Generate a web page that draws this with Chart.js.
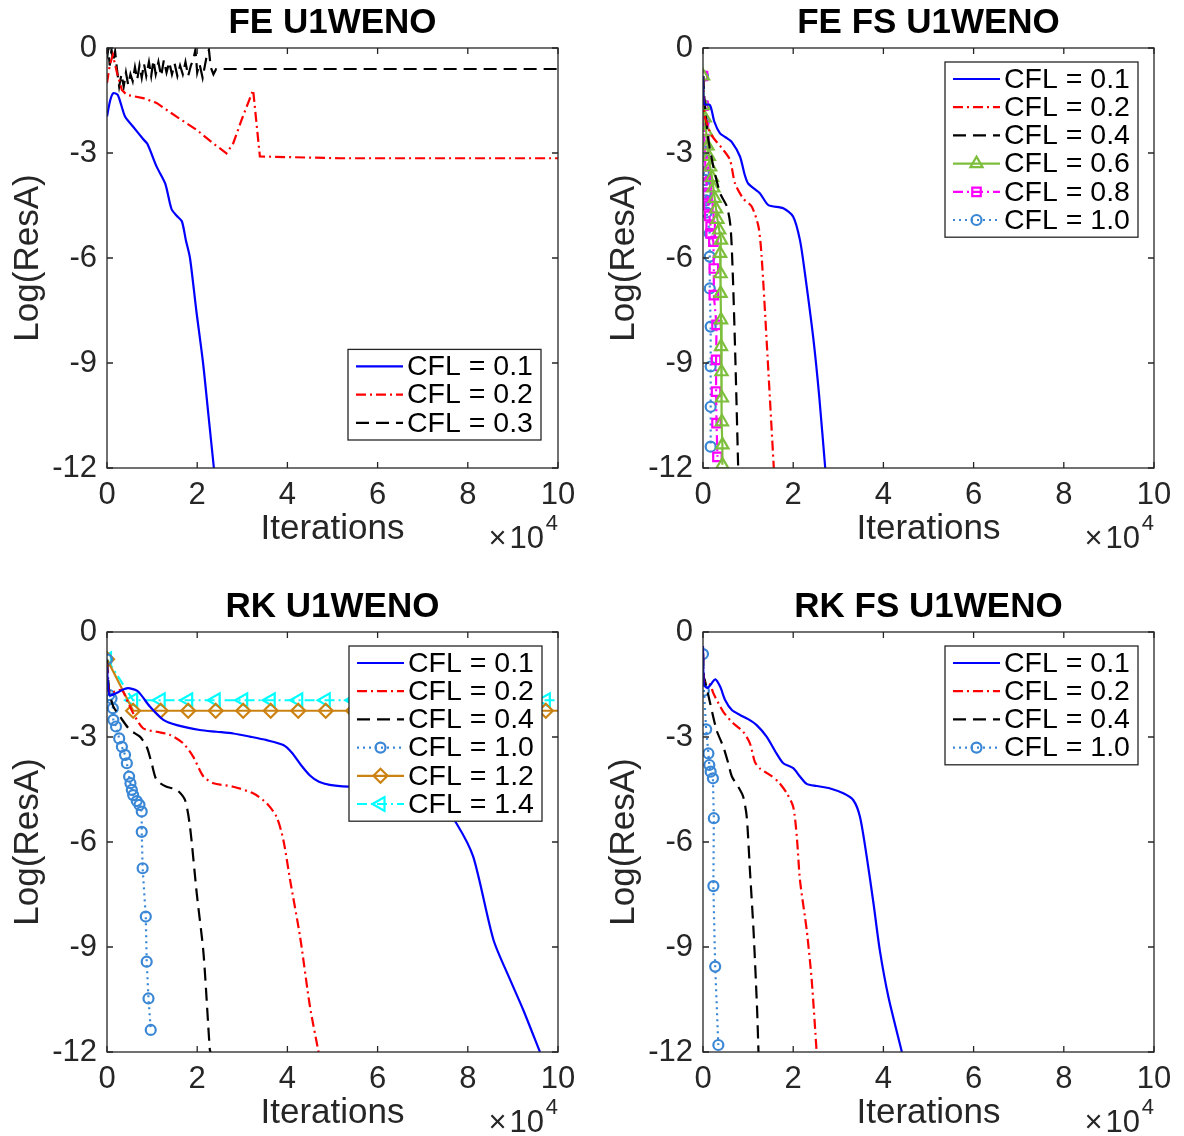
<!DOCTYPE html>
<html>
<head>
<meta charset="utf-8">
<title>Residual convergence, U1WENO</title>
<script src="https://cdn.jsdelivr.net/npm/chart.js@4.4.1/dist/chart.umd.min.js"></script>
<style>
  html, body { margin: 0; padding: 0; background: #fff; overflow: hidden; }
  body { width: 1184px; height: 1136px; position: relative; }
  .panel { position: absolute; width: 592px; height: 568px; }
</style>
</head>
<body>
<div class="panel" style="left:0;top:0"><canvas id="feU1" width="592" height="568"></canvas></div>
<div class="panel" style="left:596px;top:0"><canvas id="feFsU1" width="592" height="568"></canvas></div>
<div class="panel" style="left:0;top:584px"><canvas id="rkU1" width="592" height="568"></canvas></div>
<div class="panel" style="left:596px;top:584px"><canvas id="rkFsU1" width="592" height="568"></canvas></div>
<script>
// x values are iterations / 1e4, y values are log10 of the residual

// --- FE U1WENO ---
const fe_cfl01 = [[0,-1.96],[0.07,-1.5],[0.14,-1.29],[0.24,-1.34],[0.4,-1.96],[0.58,-2.25],[0.8,-2.6],[0.9,-2.75],
  [1.1,-3.39],[1.29,-3.87],[1.43,-4.6],[1.55,-4.8],[1.66,-4.95],[1.75,-5.5],[1.84,-6.0],[1.98,-7.5],[2.13,-9.0],
  [2.25,-10.5],[2.37,-12]];
const fe_cfl02 = [[0,-1.0],[0.06,-0.5],[0.13,-0.2],[0.22,-0.7],[0.33,-1.2],[0.44,-1.34],[0.8,-1.43],[1.1,-1.57],
  [1.55,-1.97],[1.99,-2.34],[2.35,-2.72],[2.65,-3.01],[2.8,-2.72],[3.0,-2.0],[3.24,-1.2],[3.39,-3.1],[5.17,-3.15],[10,-3.15]];
const fe_cfl03 = [[0,-0.3],[0.03,0],[0.06,-0.5],[0.1,-0.05],[0.14,-0.4],[0.18,-0.1],[0.22,-0.6],[0.27,-1.1],
  [0.32,-0.75],[0.37,-1.1],[0.42,-0.7],[0.47,-1.05],[0.52,-0.75],[0.57,-0.95],[0.62,-0.55],[0.67,-0.9],[0.72,-0.5],
  [0.77,-0.85],[0.82,-0.45],[0.87,-0.8],[0.93,-0.4],[0.98,-0.8],[1.03,-0.35],[1.08,-0.75],[1.14,-0.4],[1.2,-0.8],
  [1.26,-0.35],[1.32,-0.7],[1.38,-0.4],[1.44,-0.75],[1.5,-0.45],[1.56,-0.8],[1.62,-0.5],[1.68,-0.75],[1.74,-0.4],
  [1.8,-0.8],[1.86,-0.5],[1.92,-0.3],[1.96,-0.05],[2.0,-0.7],[2.05,-0.45],[2.12,-0.85],[2.2,-0.3],[2.26,-0.05],
  [2.3,-0.55],[2.36,-0.75],[2.42,-0.6],[10,-0.6]];

// --- FE FS U1WENO ---
const fs_cfl01 = [[0,-0.8],[0.02,-1.6],[0.155,-1.63],[0.25,-2.1],[0.377,-2.44],[0.5,-2.55],[0.636,-2.68],[0.82,-3.1],
  [0.92,-3.6],[1.0,-3.87],[1.26,-4.15],[1.45,-4.49],[1.78,-4.58],[2.0,-4.82],[2.15,-5.49],[2.26,-6.44],[2.45,-8.34],
  [2.58,-10],[2.71,-12]];
const fs_cfl02 = [[0,-0.8],[0.02,-1.6],[0.04,-1.96],[0.19,-2.49],[0.45,-2.91],[0.6,-3.2],[0.71,-3.87],[0.89,-4.3],
  [1.08,-4.53],[1.23,-5.1],[1.3,-5.96],[1.41,-8.34],[1.57,-12]];
const fs_cfl04 = [[0,-0.8],[0.05,-1.8],[0.12,-2.63],[0.23,-3.39],[0.38,-4.15],[0.53,-4.53],[0.61,-5.1],[0.66,-6.44],
  [0.72,-9],[0.78,-12]];
const fs_cfl06 = [[0,-0.8],[0.02,-1.65],[0.04,-2.0],[0.07,-2.4],[0.1,-2.8],[0.13,-3.1],[0.16,-3.4],[0.2,-3.7],
  [0.23,-4.0],[0.26,-4.3],[0.29,-4.6],[0.32,-4.9],[0.36,-5.2],[0.4,-5.49],[0.38,-5.87],[0.39,-6.45],[0.39,-7.01],
  [0.4,-7.77],[0.4,-8.53],[0.41,-9.25],[0.42,-10.0],[0.42,-10.68],[0.43,-11.34],[0.43,-11.91]];
const fs_cfl08 = [[0,-0.8],[0.01,-1.65],[0.02,-2.2],[0.03,-2.6],[0.04,-3.0],[0.05,-3.3],[0.06,-3.6],[0.08,-3.9],
  [0.1,-4.2],[0.12,-4.5],[0.14,-4.8],[0.17,-5.1],[0.17,-5.3],[0.23,-5.53],[0.24,-6.3],[0.24,-7.06],[0.3,-7.91],
  [0.29,-8.91],[0.29,-9.82],[0.3,-10.72],[0.32,-11.68]];
const fs_cfl10 = [[0,-0.8],[0.01,-1.63],[0.02,-2.1],[0.04,-2.96],[0.02,-3.58],[0.04,-3.77],[0.05,-3.95],[0.06,-4.15],
  [0.07,-4.35],[0.08,-4.7],[0.15,-5.3],[0.15,-5.96],[0.15,-6.87],[0.17,-7.96],[0.17,-9.1],[0.17,-10.25],[0.17,-11.39]];

// --- RK U1WENO ---
const rk_cfl01 = [[0,-1.0],[0.05,-1.8],[0.2,-1.75],[0.4,-1.62],[0.51,-1.61],[0.69,-1.7],[0.95,-2.13],[1.25,-2.51],
  [1.55,-2.66],[2.06,-2.8],[2.43,-2.85],[2.8,-2.9],[3.17,-2.99],[3.54,-3.09],[3.91,-3.23],[4.1,-3.45],[4.3,-3.8],
  [4.5,-4.1],[4.7,-4.28],[4.94,-4.37],[5.35,-4.42],[6.05,-4.45],[6.72,-4.55],[7.38,-4.85],[7.75,-5.47],
  [8.12,-6.42],[8.57,-8.8],[8.94,-9.94],[9.23,-10.8],[9.6,-12]];
const rk_cfl02 = [[0,-0.9],[0.05,-1.75],[0.18,-1.7],[0.33,-1.66],[0.44,-1.94],[0.58,-2.32],[0.8,-2.75],[1.1,-2.85],
  [1.4,-2.94],[1.69,-3.18],[1.91,-3.56],[2.14,-4.13],[2.36,-4.32],[2.8,-4.42],[3.24,-4.61],[3.54,-4.89],[3.76,-5.28],
  [3.91,-5.94],[4.06,-7.09],[4.28,-8.7],[4.5,-10.7],[4.69,-12]];
const rk_cfl04 = [[0,-0.8],[0.05,-1.7],[0.14,-2.13],[0.29,-2.42],[0.51,-2.8],[0.73,-2.99],[0.88,-3.28],[0.99,-3.75],
  [1.1,-4.23],[1.32,-4.42],[1.55,-4.51],[1.73,-4.8],[1.84,-5.56],[1.99,-7.47],[2.14,-9.18],[2.28,-11.94],[2.3,-12]];
const rk_cfl10 = [[0,-0.78],[0.05,-1.8],[0.1,-1.9],[0.13,-2.18],[0.14,-2.51],[0.2,-2.7],[0.27,-3.04],[0.33,-3.28],
  [0.4,-3.51],[0.44,-3.75],[0.49,-4.13],[0.52,-4.32],[0.55,-4.51],[0.58,-4.66],[0.66,-4.83],[0.72,-4.94],[0.77,-5.13],
  [0.77,-5.71],[0.79,-6.75],[0.86,-8.13],[0.88,-9.42],[0.92,-10.47],[0.97,-11.37]];
const rk_cfl12 = [[0,-0.78],[0.58,-2.25],[1.19,-2.25],[1.8,-2.25],[2.41,-2.25],[3.02,-2.25],[3.63,-2.25],[4.24,-2.25],
  [4.85,-2.25],[5.46,-2.25],[6.07,-2.25],[6.68,-2.25],[7.29,-2.25],[7.9,-2.25],[8.51,-2.25],[9.12,-2.25],[9.73,-2.25],
  [10,-2.25]];
const rk_cfl14 = [[0,-0.78],[0.58,-1.95],[1.19,-1.95],[1.8,-1.95],[2.41,-1.95],[3.02,-1.95],[3.63,-1.95],[4.24,-1.95],
  [4.85,-1.95],[5.46,-1.95],[6.07,-1.95],[6.68,-1.95],[7.29,-1.95],[7.9,-1.95],[8.51,-1.95],[9.12,-1.95],[9.73,-1.95],
  [10,-1.95]];

// --- RK FS U1WENO ---
const rkfs_cfl01 = [[0,-0.4],[0.02,-1.5],[0.1,-1.6],[0.19,-1.47],[0.27,-1.35],[0.38,-1.56],[0.49,-1.94],[0.64,-2.23],
  [0.82,-2.37],[1.0,-2.49],[1.19,-2.66],[1.41,-2.99],[1.63,-3.47],[1.78,-3.75],[2.0,-3.89],[2.15,-4.13],[2.3,-4.34],
  [2.52,-4.4],[2.82,-4.47],[3.11,-4.61],[3.33,-4.8],[3.48,-5.28],[3.63,-6.42],[3.78,-7.75],[3.92,-9.09],[4.11,-10.42],
  [4.41,-12]];
const rkfs_cfl02 = [[0,-0.6],[0.02,-1.4],[0.16,-1.51],[0.23,-1.75],[0.45,-2.28],[0.67,-2.61],[0.89,-2.85],[1.04,-3.18],
  [1.15,-3.71],[1.26,-3.9],[1.49,-4.09],[1.67,-4.28],[1.86,-4.61],[2.0,-4.99],[2.08,-5.85],[2.15,-7.09],[2.3,-8.52],
  [2.41,-9.94],[2.52,-12]];
const rkfs_cfl04 = [[0,-0.6],[0.02,-1.3],[0.04,-1.37],[0.16,-2.04],[0.3,-2.8],[0.45,-3.28],[0.56,-3.75],[0.64,-4.13],
  [0.78,-4.42],[0.89,-4.7],[0.97,-5.28],[1.04,-6.8],[1.12,-8.52],[1.2,-10.8],[1.23,-12]];
const rkfs_cfl10 = [[0,-0.63],[0.02,-1.68],[0.07,-2.78],[0.12,-3.47],[0.14,-3.8],[0.17,-3.99],[0.22,-4.18],[0.24,-5.32],
  [0.23,-7.26],[0.27,-9.56],[0.34,-11.8]];

const xTicks = [0, 2, 4, 6, 8, 10];
const yTicks = [-12, -9, -6, -3, 0];

const FONT = '"Liberation Sans", Arial, Helvetica, sans-serif';
const AXIS = '#262626';
const SOLID = [], DASHDOT = [10, 4, 2, 4], DASHED = [13, 7], DOTTED = [2, 4];

Chart.defaults.font.family = FONT;
Chart.defaults.color = AXIS;

function series(label, pts, color, dash, marker, smooth) {
    const m = marker || {};
    return {
        label: label,
        data: pts.map(p => ({ x: p[0], y: p[1] })),
        borderColor: color,
        borderWidth: 2.2,
        borderDash: dash,
        pointStyle: m.style || 'circle',
        pointRotation: m.rot || 0,
        pointRadius: pts.map((p, i) => (m.r && !(m.bareEnd && i === pts.length - 1)) ? m.r : 0),
        pointBorderColor: color,
        pointBackgroundColor: 'rgba(0,0,0,0)',
        pointBorderWidth: 2.2,
        tension: smooth ? 0.25 : 0,
        markR: m.r || 0,
        fill: false
    };
}

// box round the axes with inward ticks on all four sides
const matlabBox = {
    id: 'matlabBox',
    afterDatasetsDraw(chart) {
        const { ctx, chartArea: a, scales } = chart;
        ctx.save();
        ctx.strokeStyle = AXIS;
        ctx.lineWidth = 1.3;
        ctx.setLineDash([]);
        ctx.beginPath();
        xTicks.forEach(v => {
            const px = scales.x.getPixelForValue(v);
            ctx.moveTo(px, a.bottom); ctx.lineTo(px, a.bottom - 6);
            ctx.moveTo(px, a.top); ctx.lineTo(px, a.top + 6);
        });
        yTicks.forEach(v => {
            const py = scales.y.getPixelForValue(v);
            ctx.moveTo(a.left, py); ctx.lineTo(a.left + 6, py);
            ctx.moveTo(a.right, py); ctx.lineTo(a.right - 6, py);
        });
        ctx.stroke();
        ctx.strokeRect(a.left, a.top, a.right - a.left, a.bottom - a.top);
        ctx.restore();
    }
};

// the "x10^4" multiplier under the x axis
const expLabel = {
    id: 'expLabel',
    afterDraw(chart) {
        const { ctx, chartArea: a } = chart;
        ctx.save();
        ctx.fillStyle = AXIS;
        ctx.textAlign = 'right';
        ctx.textBaseline = 'alphabetic';
        ctx.font = '22px ' + FONT;
        ctx.fillText('4', a.right, a.bottom + 62);
        ctx.font = '31px ' + FONT;
        ctx.fillText('10', a.right - 14, a.bottom + 80);
        const w10 = ctx.measureText('10').width;
        ctx.fillText('\u00d7', a.right - 17 - w10, a.bottom + 80);
        ctx.restore();
    }
};

// legend box drawn inside the axes
const boxLegend = {
    id: 'boxLegend',
    afterDraw(chart, args, opts) {
        const { ctx, chartArea: a } = chart;
        const items = chart.data.datasets;
        const rowH = 28.2, w = 193;
        const h = items.length * rowH + 6;
        const left = a.right - opts.right - w;
        const top = opts.corner === 'se' ? a.bottom - opts.bottom - h : a.top + opts.top;
        ctx.save();
        ctx.fillStyle = '#fff';
        ctx.fillRect(left, top, w, h);
        ctx.strokeStyle = AXIS;
        ctx.lineWidth = 1.3;
        ctx.strokeRect(left, top, w, h);
        items.forEach((d, i) => {
            const cy = top + 17 + i * rowH;
            ctx.beginPath();
            ctx.setLineDash(d.borderDash);
            ctx.strokeStyle = d.borderColor;
            ctx.lineWidth = d.borderWidth;
            ctx.moveTo(left + 8, cy);
            ctx.lineTo(left + 55, cy);
            ctx.stroke();
            ctx.setLineDash([]);
            if (d.markR) {
                ctx.fillStyle = 'rgba(0,0,0,0)';
                ctx.lineWidth = 2.2;
                Chart.helpers.drawPoint(ctx, { pointStyle: d.pointStyle, rotation: d.pointRotation, radius: d.markR, borderWidth: 2.2 }, left + 31.5, cy);
            }
            ctx.fillStyle = '#000';
            ctx.font = '28.5px ' + FONT;
            ctx.textAlign = 'left';
            ctx.textBaseline = 'middle';
            ctx.fillText(d.label, left + 59, cy + 1);
        });
        ctx.restore();
    }
};

function makePanel(id, title, datasets, legendPos) {
    new Chart(document.getElementById(id), {
        type: 'line',
        data: { datasets: datasets },
        options: {
            responsive: false,
            animation: false,
            events: [],
            layout: { padding: { top: 0, left: 0, right: 34, bottom: 0 } },
            plugins: {
                legend: { display: false },
                tooltip: { enabled: false },
                title: { display: true, text: title, fullSize: false, color: '#000',
                         font: { size: 35, weight: 'bold' }, padding: { top: 2, bottom: 4 } },
                boxLegend: legendPos
            },
            scales: {
                x: {
                    type: 'linear', min: 0, max: 10,
                    afterBuildTicks: s => { s.ticks = xTicks.map(v => ({ value: v })); },
                    ticks: { font: { size: 31 }, color: AXIS, padding: 9, maxRotation: 0, autoSkip: false },
                    grid: { display: false, drawTicks: false },
                    border: { display: false },
                    title: { display: true, text: 'Iterations', color: AXIS, font: { size: 35 }, padding: { top: 0, bottom: 18 } },
                    afterFit: s => { s.height = 100; }
                },
                y: {
                    type: 'linear', min: -12, max: 0,
                    afterBuildTicks: s => { s.ticks = yTicks.map(v => ({ value: v })); },
                    ticks: { font: { size: 31 }, color: AXIS, padding: 10 },
                    grid: { display: false, drawTicks: false },
                    border: { display: false },
                    title: { display: true, text: 'Log(ResA)', color: AXIS, font: { size: 35 }, padding: { top: 7, bottom: 0 } },
                    afterFit: s => { s.width = 107; }
                }
            }
        },
        plugins: [matlabBox, expLabel, boxLegend]
    });
}

const BLUE = '#0000ff', RED = '#ff0000', BLACK = '#000000';
const GREEN = '#7dbf3c', MAGENTA = '#ff00ff', SKY = '#3a87d6', ORANGE = '#cc8212', CYAN = '#00ffff';

const circle = { style: 'circle', r: 5 };

makePanel('feU1', 'FE U1WENO', [
    series('CFL = 0.1', fe_cfl01, BLUE, SOLID, null, true),
    series('CFL = 0.2', fe_cfl02, RED, DASHDOT, null, false),
    series('CFL = 0.3', fe_cfl03, BLACK, DASHED, null, false)
], { corner: 'se', right: 17, bottom: 28 });

makePanel('feFsU1', 'FE FS U1WENO', [
    series('CFL = 0.1', fs_cfl01, BLUE, SOLID, null, true),
    series('CFL = 0.2', fs_cfl02, RED, DASHDOT, null, true),
    series('CFL = 0.4', fs_cfl04, BLACK, DASHED, null, true),
    series('CFL = 0.6', fs_cfl06, GREEN, SOLID, { style: 'triangle', r: 7 }),
    series('CFL = 0.8', fs_cfl08, MAGENTA, DASHDOT, { style: 'rect', r: 6 }),
    series('CFL = 1.0', fs_cfl10, SKY, DOTTED, circle)
], { corner: 'ne', right: 16, top: 14 });

makePanel('rkU1', 'RK U1WENO', [
    series('CFL = 0.1', rk_cfl01, BLUE, SOLID, null, true),
    series('CFL = 0.2', rk_cfl02, RED, DASHDOT, null, true),
    series('CFL = 0.4', rk_cfl04, BLACK, DASHED, null, true),
    series('CFL = 1.0', rk_cfl10, SKY, DOTTED, circle),
    series('CFL = 1.2', rk_cfl12, ORANGE, SOLID, { style: 'rectRot', r: 7, bareEnd: true }),
    series('CFL = 1.4', rk_cfl14, CYAN, DASHDOT, { style: 'triangle', rot: -90, r: 8, bareEnd: true })
], { corner: 'ne', right: 16, top: 14 });

makePanel('rkFsU1', 'RK FS U1WENO', [
    series('CFL = 0.1', rkfs_cfl01, BLUE, SOLID, null, true),
    series('CFL = 0.2', rkfs_cfl02, RED, DASHDOT, null, true),
    series('CFL = 0.4', rkfs_cfl04, BLACK, DASHED, null, true),
    series('CFL = 1.0', rkfs_cfl10, SKY, DOTTED, circle)
], { corner: 'ne', right: 16, top: 14 });
</script>
</body>
</html>
